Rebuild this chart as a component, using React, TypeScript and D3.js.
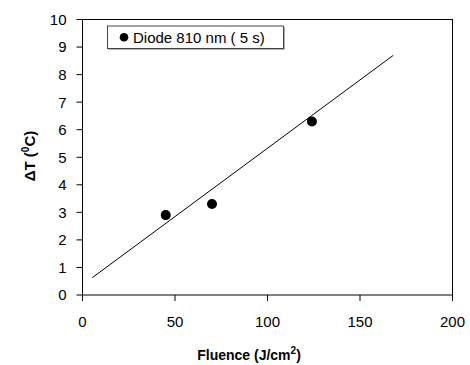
import React from "react";
import * as d3 from "d3";

// Measured temperature rise vs. fluence
const fluence = [45, 70, 124];
const deltaT = [2.9, 3.3, 6.3];

// Linear fit endpoints
const fitX = [5.3, 168];
const fitY = [0.63, 8.7];

const xTicks = [0, 50, 100, 150, 200];
const yTicks = [0, 1, 2, 3, 4, 5, 6, 7, 8, 9, 10];

const legendLabel = "Diode 810 nm ( 5 s)";

const W = 470;
const H = 365;
const FONT = "'Liberation Sans', Arial, Helvetica, sans-serif";

export default function App() {
  const x = d3.scaleLinear().domain([0, 200]).range([82.5, 452.5]);
  const y = d3.scaleLinear().domain([0, 10]).range([295, 19.5]);

  const fitLine = d3
    .line<number>()
    .x((d) => x(d))
    .y((_, i) => y(fitY[i]))(fitX) as string;

  const [x0, x1] = x.range();
  const [y0, y1] = y.range();

  return (
    <svg
      width={W}
      height={H}
      style={{ position: "absolute", left: 0, top: 0, background: "#fff" }}
      fontFamily={FONT}
    >
      <rect x={0} y={0} width={W} height={H} fill="#fff" />

      {/* frame */}
      <rect x={x0} y={y1} width={x1 - x0} height={y0 - y1} fill="none" stroke="#000" strokeWidth={1} />

      {/* y axis ticks */}
      {yTicks.map((t) => (
        <g key={`y${t}`}>
          <line x1={x0 - 6} x2={x0} y1={y(t)} y2={y(t)} stroke="#000" />
          <text x={66.5} y={y(t)} dy="0.36em" textAnchor="end" fontSize={15} fill="#000">
            {t}
          </text>
        </g>
      ))}

      {/* x axis ticks */}
      {xTicks.map((t) => (
        <g key={`x${t}`}>
          <line x1={x(t)} x2={x(t)} y1={y0} y2={y0 + 6} stroke="#000" />
          <text x={x(t)} y={327} textAnchor="middle" fontSize={15} fill="#000">
            {t}
          </text>
        </g>
      ))}

      {/* fit line */}
      <path d={fitLine} fill="none" stroke="#000" strokeWidth={1} />

      {/* data points */}
      {fluence.map((f, i) => (
        <circle key={i} cx={x(f)} cy={y(deltaT[i])} r={5} fill="#000" />
      ))}

      {/* legend */}
      <rect x={108.5} y={27} width={176} height={22.5} fill="#666" />
      <rect x={107.5} y={26} width={176} height={22.5} fill="#fff" stroke="#444" strokeWidth={1} />
      <circle cx={124} cy={37.3} r={4.3} fill="#000" />
      <text x={133} y={42.6} fontSize={15} fill="#000">
        {legendLabel}
      </text>

      {/* axis titles */}
      <text x={249} y={360} textAnchor="middle" fontSize={14} fontWeight="bold" fill="#000">
        Fluence (J/cm
        <tspan dy={-6} fontSize={10}>2</tspan>
        <tspan dy={6}>)</tspan>
      </text>
      <text
        transform={`translate(35,156) rotate(-90)`}
        textAnchor="middle"
        fontSize={15}
        fontWeight="bold"
        fill="#000"
      >
        ΔT (
        <tspan dy={-6} fontSize={10}>0</tspan>
        <tspan dy={6}>C)</tspan>
      </text>
    </svg>
  );
}
